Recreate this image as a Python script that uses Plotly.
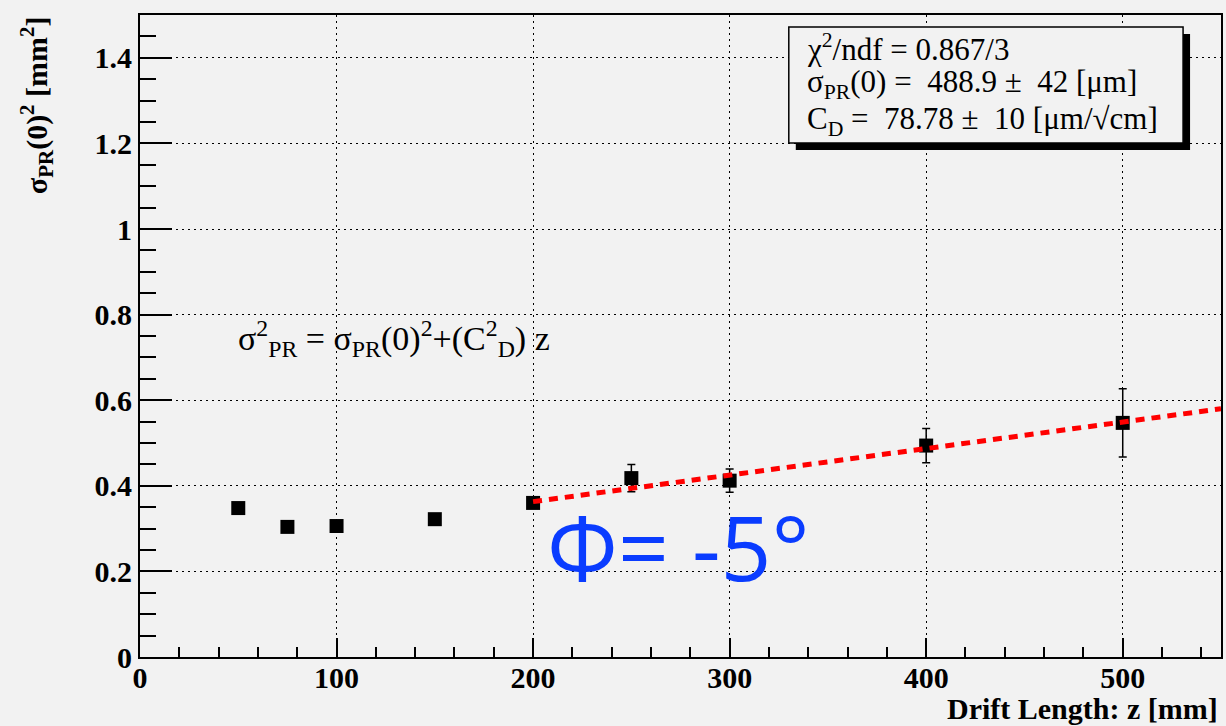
import plotly.graph_objects as go

# ---- data ----
z_mm = [50, 75, 100, 150, 200, 250, 300, 400, 500]
sigma2 = [0.348, 0.304, 0.306, 0.322, 0.360, 0.418, 0.412, 0.494, 0.547]
sigma2_err = [0.006, 0.006, 0.006, 0.006, 0.008, 0.032, 0.027, 0.040, 0.080]

fit_z = [200, 550]
fit_y = [0.363, 0.580]

x_tickvals = [0, 100, 200, 300, 400, 500]
x_ticktext = ["0", "100", "200", "300", "400", "500"]
y_tickvals = [0, 0.2, 0.4, 0.6, 0.8, 1.0, 1.2, 1.4]
y_ticktext = ["0", "0.2", "0.4", "0.6", "0.8", "1", "1.2", "1.4"]

stat_lines = [
    "χ<sup>2</sup>/ndf = 0.867/3",
    "σ<sub>PR</sub>(0) =\u00a0 488.9 ±\u00a0 42 [μm]",
    "C<sub>D</sub> =\u00a0 78.78 ±\u00a0 10 [μm/√cm]",
]

BG = "#f2f2f2"
SERIF = "Liberation Serif"

# plot-area geometry in pixels (for placing annotations)
W, H = 1226, 726
L, R, T, B = 140, 3, 15, 69
PW, PH = W - L - R, H - T - B


def px(xp):
    return (xp - L) / PW


def py(yp):
    return (H - B - yp) / PH


fig = go.Figure()

fig.add_trace(go.Scatter(
    x=z_mm, y=sigma2, mode="markers",
    marker=dict(symbol="square", size=14, color="black"),
    error_y=dict(type="data", array=sigma2_err, visible=True,
                 color="black", thickness=1.5, width=4),
    showlegend=False, hoverinfo="x+y",
))

fig.add_trace(go.Scatter(
    x=fit_z, y=fit_y, mode="lines",
    line=dict(color="#ff0000", width=5, dash="9px,7px"),
    showlegend=False,
))

fig.update_layout(
    width=W, height=H,
    margin=dict(l=L, r=R, t=T, b=B),
    paper_bgcolor=BG, plot_bgcolor=BG,
    font=dict(family=SERIF, color="black"),
    xaxis=dict(
        range=[0, 550], showline=True, linecolor="black", linewidth=2, mirror=True,
        tickvals=x_tickvals, ticktext=x_ticktext,
        ticks="inside", ticklen=19, tickwidth=1.5, tickcolor="black",
        tickfont=dict(family=SERIF, size=30, weight=700),
        showgrid=True, gridcolor="black", gridwidth=1, griddash="2px,4px",
        minor=dict(dtick=20, ticks="inside", ticklen=10, tickwidth=1.5,
                   tickcolor="black", showgrid=False),
        zeroline=False, ticklabelstandoff=-7,
    ),
    yaxis=dict(
        range=[0, 1.5], showline=True, linecolor="black", linewidth=2, mirror=True,
        tickvals=y_tickvals, ticktext=y_ticktext,
        ticks="inside", ticklen=32, tickwidth=1.5, tickcolor="black",
        tickfont=dict(family=SERIF, size=30, weight=700),
        showgrid=True, gridcolor="black", gridwidth=1, griddash="2px,4px",
        minor=dict(dtick=0.05, ticks="inside", ticklen=16, tickwidth=1.5,
                   tickcolor="black", showgrid=False),
        zeroline=False, ticklabelstandoff=0,
    ),
)

# stat box with shadow
fig.add_shape(type="rect", xref="paper", yref="paper",
              x0=px(797), x1=px(1192), y0=py(150), y1=py(34),
              fillcolor="black", line=dict(width=0))
fig.add_shape(type="rect", xref="paper", yref="paper",
              x0=px(790), x1=px(1185), y0=py(143), y1=py(27),
              fillcolor=BG, line=dict(color="black", width=1.5))

for txt, yc in zip(stat_lines, [48, 84, 121]):
    fig.add_annotation(text=txt, xref="paper", yref="paper",
                       x=px(806), y=py(yc), xanchor="left", yanchor="middle",
                       showarrow=False, font=dict(family=SERIF, size=31, color="black"))

# axis titles
fig.add_annotation(text="Drift Length: z [mm]", xref="paper", yref="paper",
                   x=px(1222), y=py(708), xanchor="right", yanchor="middle",
                   showarrow=False, font=dict(family=SERIF, size=30, weight=700))
fig.add_annotation(text="σ<sub>PR</sub>(0)<sup>2</sup> [mm<sup>2</sup>]",
                   xref="paper", yref="paper", textangle=-90,
                   x=px(36), y=py(14), xanchor="center", yanchor="top",
                   showarrow=False, font=dict(family=SERIF, size=30, weight=700))

# formula
fig.add_annotation(text="σ<sup>2</sup><sub>PR</sub> = σ<sub>PR</sub>(0)<sup>2</sup>+(C<sup>2</sup><sub>D</sub>) z",
                   xref="paper", yref="paper", x=px(236), y=py(338),
                   xanchor="left", yanchor="middle", showarrow=False,
                   font=dict(family=SERIF, size=34, color="black"))

# big blue label
fig.add_annotation(text="Φ= -5°", xref="paper", yref="paper",
                   x=px(546), y=py(546), xanchor="left", yanchor="middle",
                   showarrow=False, font=dict(family="Open Sans", size=89, color="#0a3cff"))

fig.write_html("out.html", config={"displayModeBar": False},
               post_script="document.body.style.margin='0';document.body.style.padding='0';")
